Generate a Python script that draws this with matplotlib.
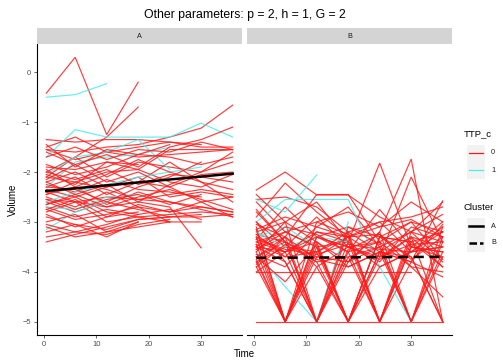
import matplotlib
matplotlib.use("Agg")
import matplotlib.pyplot as plt
from matplotlib.patches import Rectangle

plt.rcParams['font.family'] = ['Liberation Sans', 'DejaVu Sans']

# visit times (weeks); None = no measurement at that visit
TIMES = [0.5, 6, 12, 18, 24, 30, 36]

# cluster A, TTP_c = 0
a_red = [
    [-0.42, 0.3, -1.25, -0.2, None, None, None],
    [-2.1, -1.7, -1.3, -0.7, None, None, None],
    [-1.55, -1.6, -1.5, -1.45, -1.3, -1.12, -0.66],
    [-1.35, -1.4, -1.35, -1.35, -1.4, -1.5, -1.5],
    [-1.5, -1.3, -1.6, -1.5, -1.4, -1.45, None],
    [-1.55, -1.75, -1.6, -1.7, -1.65, -1.6, -1.55],
    [-1.9, -1.95, -1.8, -1.85, None, None, None],
    [-2.0, -1.7, -2.1, -1.8, -1.9, -2.0, -1.6],
    [-2.1, -2.2, -2.0, -1.95, -2.2, -2.3, -2.05],
    [-2.2, -2.0, -2.3, -2.2, -1.8, -2.2, -2.6],
    [-2.25, -2.4, -2.15, -2.35, -2.4, -2.5, None],
    [-2.3, -2.1, -2.45, -2.2, -2.3, -2.6, -2.5],
    [-2.35, -2.5, -2.3, -2.1, -2.5, -2.4, -2.5],
    [-2.4, -2.6, -2.5, -2.55, -2.6, -2.7, -2.8],
    [-2.45, -2.3, -2.65, -2.4, -2.6, -2.75, -2.9],
    [-2.5, -2.7, -2.4, -2.7, -2.8, -2.7, -2.8],
    [-2.55, -2.6, -2.7, -2.6, -2.7, -3.52, None],
    [-2.6, -2.8, -2.6, -2.75, -2.9, -2.9, -2.85],
    [-2.65, -2.5, -2.8, -2.9, -3.0, -3.0, None],
    [-2.7, -2.9, -2.75, -2.85, -2.75, -2.95, None],
    [-2.75, -2.95, -2.85, -2.7, -3.0, None, None],
    [-2.8, -2.6, -3.0, -2.9, -2.85, -2.8, -2.85],
    [-2.85, -3.1, -2.9, -2.8, None, None, None],
    [-2.9, -3.05, -3.15, -2.95, -2.9, -2.85, None],
    [-3.0, -2.85, -3.2, -3.0, None, None, None],
    [-3.05, -3.2, -3.25, -3.05, -2.95, None, None],
    [-3.1, -3.3, -3.2, -3.1, -3.0, None, None],
    [-3.2, -3.05, -3.3, -3.0, None, None, None],
    [-3.3, -3.2, -3.05, -2.85, None, None, None],
    [-3.4, -3.25, -3.1, -2.95, -2.9, None, None],
    [-1.6, -1.85, -1.65, -1.9, -1.5, -1.35, -1.1],
    [-1.7, -1.5, -1.75, -1.55, -1.6, -1.4, -1.55],
    [-1.85, -2.05, -1.9, -1.65, -1.7, -1.85, -1.7],
    [-2.0, -2.15, -1.95, -2.25, -2.05, -2.1, -2.2],
    [-2.15, -1.85, -2.2, -2.0, -2.3, -2.05, -2.0],
    [-2.3, -2.35, -2.6, -2.3, -2.1, -1.8, None],
    [-2.45, -2.2, -2.35, -2.55, -2.45, -2.35, -2.45],
    [-2.55, -2.75, -2.55, -2.45, -2.65, -2.45, None],
    [-1.45, -1.9, -1.55, -1.65, -1.45, None, None],
    [-2.05, -2.25, -1.8, -1.95, -1.55, -1.55, -1.55],
    [-2.65, -2.45, -2.7, -2.5, -2.35, -2.55, -2.75],
    [-2.75, -2.55, -2.9, -2.65, -2.8, -2.6, -2.9],
    [-2.2, -2.45, -2.25, -2.6, -2.25, -2.0, -1.8],
    [-1.95, -2.3, -2.05, -1.75, -2.0, -2.2, -2.35],
]

# cluster A, TTP_c = 1
a_cyan = [
    [-0.5, -0.45, -0.23, None, None, None, None],
    [-1.7, -1.15, -1.3, -1.3, -1.3, -1.02, -1.3],
    [-2.05, -1.7, -1.6, -1.35, -1.95, None, None],
    [-2.3, -1.8, -1.7, -1.65, -1.5, None, None],
    [-3.15, -2.8, -2.6, None, None, None, None],
    [-2.6, -2.4, -2.25, -2.1, -2.0, -1.9, None],
    [-2.7, -2.75, -2.5, -2.45, None, None, None],
]

# cluster B, TTP_c = 0
b_red = [
    [-5.0, -5.0, -5.0, -5.0, -5.0, -5.0, -5.0],
    [-4.0, -4.0, -4.0, -4.0, -4.0, -4.0, None],
    [-2.36, -2.0, -2.46, -2.46, -2.9, -3.2, -3.4],
    [-2.9, -2.22, -2.8, -3.3, -3.0, -2.9, -2.7],
    [-3.5, -3.6, -3.2, -3.4, -1.82, -3.5, -3.6],
    [-3.3, -3.6, -3.4, -3.8, -3.2, -1.74, -5.0],
    [-3.1, -5.0, -3.3, -3.5, -3.7, -2.1, -3.4],
    [-3.25, -3.4, -5.0, -3.2, -3.6, -3.8, -2.58],
    [-3.4, -3.2, -3.5, -5.0, -3.3, -3.4, -3.2],
    [-3.45, -3.7, -3.6, -3.3, -5.0, -3.5, -3.0],
    [-3.55, -3.3, -3.9, -3.5, -3.4, -5.0, -3.6],
    [-3.6, -5.0, -3.4, -5.0, -3.6, -3.7, -5.0],
    [-3.7, -3.4, -5.0, -3.6, -5.0, -3.3, -3.9],
    [-3.75, -5.0, -3.7, -3.8, -3.5, -5.0, -3.4],
    [-3.8, -3.5, -3.6, -5.0, -3.9, -3.6, -3.5],
    [-3.9, -5.0, -3.5, -3.4, -5.0, -3.8, -4.1],
    [-3.2, -3.0, -5.0, -3.7, -3.5, -5.0, -3.7],
    [-3.35, -2.7, -3.3, -3.1, -3.3, -3.4, -3.9],
    [-3.0, -3.5, -2.9, -3.5, -3.8, -3.1, -3.3],
    [-2.6, -3.2, -3.0, -2.8, -3.1, -2.95, -3.3],
    [-2.55, -2.5, -2.7, -3.2, -3.0, -3.6, -3.1],
    [-3.15, -2.9, -3.1, -2.7, -3.5, -3.2, -2.85],
    [-3.05, -3.3, -2.45, -2.45, -3.4, -3.0, -3.2],
    [-3.5, -3.1, -3.25, -3.6, -2.75, -3.5, -3.7],
    [-3.65, -3.9, -3.2, -3.3, -3.1, -2.6, -3.0],
    [-3.7, -3.3, -3.75, -3.9, -3.6, -3.2, -2.6],
    [-4.0, -3.6, -3.3, -3.5, -3.75, -3.3, -3.5],
    [-3.3, -5.0, -3.6, -3.2, -5.0, -3.5, -3.6],
    [-3.4, -3.6, -5.0, -3.8, -3.2, -5.0, -3.3],
    [-3.55, -3.2, -3.5, -5.0, -3.7, -3.3, -5.0],
    [-3.8, -5.0, -3.3, -3.6, -3.4, -3.9, -4.0],
    [-3.0, -3.8, -5.0, -3.4, -3.9, -3.6, -3.2],
    [-3.9, -3.45, -3.8, -3.7, -5.0, -3.2, -3.8],
    [-3.45, -5.0, -3.9, -5.0, -3.3, -3.7, -5.0],
    [-3.6, -3.0, -3.4, -3.9, -3.6, -5.0, -3.1],
    [-2.8, -3.4, -3.7, -3.3, -3.25, -3.9, -4.5],
    [-3.25, -3.7, -3.1, -3.3, -3.7, -3.45, -3.4],
    [-3.7, -4.2, -3.45, -5.0, -3.6, -3.8, -3.05],
    [-3.15, -5.0, -3.0, -3.25, -5.0, -3.4, None],
    [-3.5, -3.8, -5.0, -3.1, -3.45, None, None],
    [-2.45, -3.0, -2.6, -3.4, None, None, None],
    [-3.35, -3.55, -3.65, -3.45, -3.55, -3.6, -3.5],
    [-2.75, -3.4, -3.8, -5.0, -3.3, -3.0, -3.75],
    [-3.85, -3.3, -5.0, -3.55, -3.25, -3.75, -3.3],
]

# cluster B, TTP_c = 1
b_cyan = [
    [-2.55, -2.8, -2.06, None, None, None, None],
    [-3.0, -2.55, -2.55, -2.55, -3.9, -5.0, None],
    [-3.6, -4.3, -5.0, -3.0, None, None, None],
    [-3.2, -3.5, -3.3, -3.4, None, None, None],
    [-3.3, -3.1, -3.5, None, None, None, None],
]

# per-cluster linear fit: volume = intercept + slope * time
cluster_names = ['A', 'B']
cluster_intercepts = [-2.385, -3.72]
cluster_slopes = [0.0098, 0.0006]
cluster_styles = ['-', '--']

ttp_labels = ['0', '1']
RED = '#FF1A1A'
CYAN = '#45EDED'

W, H = 503, 360


def px_axes(fig, x0, y0, x1, y1, **kw):
    """Add axes from pixel box (top-left origin)."""
    return fig.add_axes([x0 / W, 1 - y1 / H, (x1 - x0) / W, (y1 - y0) / H], **kw)


def draw_traj(ax, rows, color, z):
    for row in rows:
        pts = [(t, v) for t, v in zip(TIMES, row) if v is not None]
        t, v = zip(*pts)
        ax.plot(t, v, color=color, lw=0.85, alpha=0.85, zorder=z,
                solid_joinstyle='miter')


fig = plt.figure(figsize=(W / 100, H / 100), dpi=100)

panels = [(37, a_red, a_cyan), (247, b_red, b_cyan)]
for i, (x0, reds, cyans) in enumerate(panels):
    ax = px_axes(fig, x0, 44, x0 + 205, 335)
    half = len(reds) // 2
    draw_traj(ax, reds[:half], RED, 2)
    draw_traj(ax, cyans, CYAN, 3)
    draw_traj(ax, reds[half:], RED, 4)

    t_fit = [TIMES[0], TIMES[-1]]
    v_fit = [cluster_intercepts[i] + cluster_slopes[i] * t for t in t_fit]
    ax.plot(t_fit, v_fit, color='black', lw=1.8, ls=cluster_styles[i],
            dashes=(4, 2.3) if cluster_styles[i] == '--' else (None, None),
            zorder=5)

    ax.set_xlim(-1.275, 37.775)
    ax.set_ylim(-5.265, 0.565)
    ax.set_xticks([0, 10, 20, 30])
    ax.set_yticks([0, -1, -2, -3, -4, -5])
    for s in ('top', 'right'):
        ax.spines[s].set_visible(False)
    ax.spines['bottom'].set_linewidth(0.8)
    ax.spines['left'].set_linewidth(0.8)
    ax.tick_params(labelsize=5.4, colors='#4D4D4D', length=2.5, width=0.6, pad=2)
    if i == 1:
        ax.spines['left'].set_visible(False)
        ax.tick_params(axis='y', left=False, labelleft=False)

    # facet strip
    sx = px_axes(fig, x0, 28, x0 + 205, 44)
    sx.set_axis_off()
    sx.add_patch(Rectangle((0, 0), 1, 1, transform=sx.transAxes,
                           facecolor='#D4D4D4', edgecolor='none'))
    sx.text(0.5, 0.5, cluster_names[i], ha='center', va='center',
            fontsize=5.2, color='#1A1A1A', transform=sx.transAxes)

fig.text(244.5 / W, 1 - 15 / H, 'Other parameters: p = 2, h = 1, G = 2',
         ha='center', va='center', fontsize=8.8)
fig.text(244.5 / W, 1 - 354 / H, 'Time', ha='center', va='center', fontsize=7)
fig.text(13 / W, 1 - 200 / H, 'Volume', ha='center', va='center',
         fontsize=7, rotation=90)

# legends, drawn in pixel coordinates
lg = px_axes(fig, 455, 110, 503, 270)
lg.set_axis_off()
lg.set_xlim(455, 503)
lg.set_ylim(270, 110)

lg.text(464, 134, 'TTP_c', fontsize=6.8, va='center', ha='left')
for j, (lab, col) in enumerate(zip(ttp_labels, [RED, CYAN])):
    yc = 153 + j * 17
    lg.add_patch(Rectangle((467, yc - 8.5), 18, 17, facecolor='#F2F2F2',
                           edgecolor='none'))
    lg.plot([469, 483], [yc, yc], color=col, lw=0.9)
    lg.text(491, yc, lab, fontsize=5.2, va='center', ha='left', color='#1A1A1A')

lg.text(464, 207, 'Cluster', fontsize=6.8, va='center', ha='left')
for j, (lab, st) in enumerate(zip(cluster_names, cluster_styles)):
    yc = 226 + j * 17
    lg.add_patch(Rectangle((467, yc - 8.5), 18, 17, facecolor='#F2F2F2',
                           edgecolor='none'))
    lg.plot([469, 483], [yc, yc], color='black', lw=1.8, ls=st,
            dashes=(3, 1.2) if st == '--' else (None, None))
    lg.text(491, yc, lab, fontsize=5.2, va='center', ha='left', color='#1A1A1A')

fig.savefig('out.png', dpi=100)
